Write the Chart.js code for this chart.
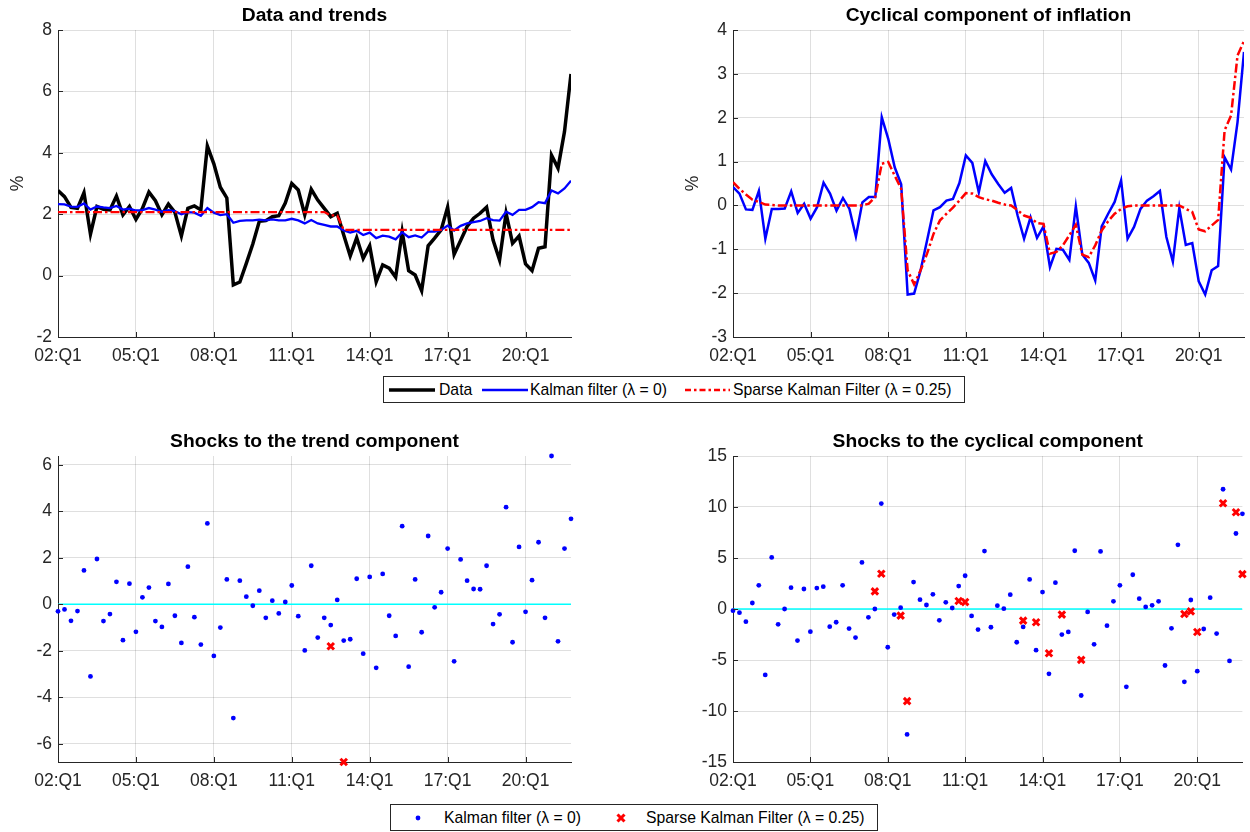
<!DOCTYPE html>
<html><head><meta charset="utf-8">
<script src="https://cdn.jsdelivr.net/npm/chart.js@4.4.1/dist/chart.umd.min.js"></script>
<style>
html,body{margin:0;padding:0;background:#fff;width:1250px;height:832px;overflow:hidden;font-family:"Liberation Sans",Arial,Helvetica,sans-serif;}
canvas{position:absolute;}
.legend{position:absolute;border:1px solid #262626;background:#fff;box-sizing:border-box;font-size:15.75px;color:#000;}
.legend .it{position:absolute;top:0;height:100%;display:flex;align-items:center;white-space:nowrap;}
.legend svg{display:block;}
</style></head><body>
<canvas id="c1" width="600" height="375" style="left:0;top:0"></canvas>
<canvas id="c2" width="575" height="375" style="left:675px;top:0"></canvas>
<canvas id="c3" width="600" height="374" style="left:0;top:426px"></canvas>
<canvas id="c4" width="575" height="374" style="left:675px;top:426px"></canvas>

<div class="legend" style="left:383px;top:376px;width:582px;height:27px">
  <div class="it" style="left:5px"><svg width="46" height="8"><line x1="0" y1="4" x2="46" y2="4" stroke="#000" stroke-width="3.5"/></svg></div>
  <div class="it" style="left:55px">Data</div>
  <div class="it" style="left:98px"><svg width="46" height="8"><line x1="0" y1="4" x2="46" y2="4" stroke="#0000ff" stroke-width="2.3"/></svg></div>
  <div class="it" style="left:146px">Kalman filter (λ = 0)</div>
  <div class="it" style="left:301px"><svg width="45" height="8"><line x1="0" y1="4" x2="45" y2="4" stroke="#ff0000" stroke-width="2.3" stroke-dasharray="6,3,2.5,3"/></svg></div>
  <div class="it" style="left:349px">Sparse Kalman Filter (λ = 0.25)</div>
</div>

<div class="legend" style="left:390px;top:804px;width:488px;height:27px">
  <div class="it" style="left:22px"><svg width="10" height="10"><circle cx="5" cy="5" r="2.4" fill="#0000ff"/></svg></div>
  <div class="it" style="left:53px">Kalman filter (λ = 0)</div>
  <div class="it" style="left:224px"><svg width="12" height="12"><line x1="2.5" y1="2.5" x2="9.5" y2="9.5" stroke="#ff0000" stroke-width="3"/><line x1="9.5" y1="2.5" x2="2.5" y2="9.5" stroke="#ff0000" stroke-width="3"/></svg></div>
  <div class="it" style="left:255px">Sparse Kalman Filter (λ = 0.25)</div>
</div>

<script>
// ---------- DATA (quarterly, 2002:Q1 - 2021:Q4) ----------
const tickPositions = [0, 12, 24, 36, 48, 60, 72];
const tickLabels = ['02:Q1', '05:Q1', '08:Q1', '11:Q1', '14:Q1', '17:Q1', '20:Q1'];

const inflationData = [
  2.77,2.57,2.22,2.19,2.70,1.35,2.25,2.16,2.14,2.59,
  1.98,2.25,1.83,2.19,2.72,2.44,1.98,2.33,2.06,1.29,
  2.19,2.27,2.14,4.22,3.64,2.88,2.53,-0.30,-0.21,0.40,
  1.03,1.77,1.79,1.92,1.95,2.36,3.00,2.79,1.98,2.81,
  2.46,2.19,1.92,2.03,1.32,0.64,1.23,0.56,0.97,-0.20,
  0.35,0.24,-0.05,1.43,0.16,0.02,-0.49,0.97,1.22,1.49,
  2.23,0.69,1.14,1.60,1.87,2.03,2.23,1.16,0.51,2.03,
  1.05,1.29,0.38,0.16,0.89,0.94,3.92,3.50,4.69,6.57
];
const kalmanTrend = [
  2.33,2.32,2.25,2.24,2.35,2.15,2.25,2.22,2.20,2.27,
  2.15,2.18,2.12,2.13,2.20,2.15,2.08,2.13,2.10,2.00,
  2.07,2.05,1.95,2.20,2.05,1.97,2.00,1.72,1.78,1.80,
  1.80,1.82,1.80,1.83,1.80,1.80,1.85,1.80,1.70,1.81,
  1.70,1.65,1.60,1.60,1.47,1.40,1.46,1.32,1.40,1.22,
  1.30,1.27,1.18,1.41,1.25,1.31,1.24,1.43,1.43,1.49,
  1.63,1.47,1.62,1.70,1.74,1.78,1.87,1.81,1.79,2.08,
  1.98,2.14,2.14,2.23,2.39,2.36,2.77,2.68,2.84,3.09
];
const sparseTrend = [
  2.07,2.07,2.07,2.07,2.07,2.07,2.07,2.07,2.07,2.07,
  2.07,2.07,2.07,2.07,2.07,2.07,2.07,2.07,2.07,2.07,
  2.07,2.07,2.07,2.07,2.07,2.07,2.07,2.07,2.07,2.07,
  2.07,2.07,2.07,2.07,2.07,2.07,2.07,2.07,2.07,2.07,
  2.07,2.07,1.96,1.96,1.49,1.49,1.49,1.49,1.49,1.49,
  1.49,1.49,1.49,1.49,1.49,1.49,1.49,1.49,1.49,1.49,
  1.49,1.49,1.49,1.49,1.49,1.49,1.49,1.49,1.49,1.49,
  1.49,1.49,1.49,1.49,1.49,1.49,1.49,1.49,1.49,1.49
];
const kalmanCycle = [
  0.42,0.27,-0.09,-0.10,0.33,-0.76,-0.08,-0.08,-0.07,0.32,
  -0.17,0.04,-0.30,-0.04,0.52,0.27,-0.12,0.17,-0.08,-0.71,
  0.07,0.19,0.19,2.01,1.52,0.87,0.48,-2.03,-2.01,-1.48,
  -0.80,-0.11,-0.04,0.11,0.15,0.51,1.14,0.97,0.30,1.01,
  0.71,0.49,0.29,0.40,-0.23,-0.76,-0.27,-0.74,-0.48,-1.41,
  -0.99,-1.01,-1.24,-0.02,-1.12,-1.31,-1.71,-0.48,-0.19,0.08,
  0.57,-0.76,-0.49,-0.08,0.11,0.21,0.33,-0.72,-1.28,-0.06,
  -0.90,-0.86,-1.73,-2.03,-1.48,-1.38,1.10,0.82,1.90,3.50
];
const sparseCycle = [
  0.53,0.38,0.25,0.13,0.08,0.02,0.01,0,0,0,
  0,0,0,0,0,0,0,0,0,0,
  0,0.04,0.20,0.95,0.99,0.68,0.38,-1.48,-1.80,-1.48,
  -1.10,-0.65,-0.34,-0.19,-0.05,0.11,0.28,0.27,0.19,0.14,
  0.11,0.06,0.02,0,-0.11,-0.23,-0.28,-0.40,-0.42,-1.10,
  -1.06,-0.91,-0.68,-0.44,-1.12,-1.18,-0.91,-0.57,-0.36,-0.19,
  -0.08,-0.02,0,0,0,0,0,0,0,0,
  -0.08,-0.15,-0.55,-0.59,-0.46,-0.33,1.71,2.05,3.42,3.75
];
const kalmanTrendShocks = [
  -0.30,-0.22,-0.71,-0.29,1.46,-3.10,1.95,-0.72,-0.42,0.97,
  -1.54,0.89,-1.18,0.30,0.72,-0.72,-0.97,0.88,-0.49,-1.66,
  1.62,-0.55,-1.73,3.48,-2.22,-1.00,1.07,-4.89,1.02,0.33,
  -0.06,0.59,-0.58,0.16,-0.39,0.10,0.81,-0.51,-1.98,1.66,
  -1.43,-0.58,-0.89,0.19,-1.56,-1.50,1.10,-2.12,1.18,-2.73,
  1.31,-0.49,-1.36,3.36,-2.68,1.07,-1.20,2.94,-0.13,0.52,
  2.40,-2.45,1.93,1.02,0.66,0.65,1.66,-0.85,-0.43,4.18,
  -1.63,2.47,-0.32,1.04,2.67,-0.58,6.38,-1.59,2.40,3.68
];
const sparseTrendShocks = [
  null,null,null,null,null,null,null,null,null,null,
  null,null,null,null,null,null,null,null,null,null,
  null,null,null,null,null,null,null,null,null,null,
  null,null,null,null,null,null,null,null,null,null,
  null,null,-1.80,null,-6.78,null,null,null,null,null,
  null,null,null,null,null,null,null,null,null,null,
  null,null,null,null,null,null,null,null,null,null,
  null,null,null,null,null,null,null,null,null,null
];
const kalmanCycleShocks = [
  -0.16,-0.36,-1.24,0.59,2.32,-6.46,5.06,-1.50,0.00,2.09,
  -3.10,1.96,-2.22,2.05,2.19,-1.73,-1.30,2.32,-1.92,-2.80,
  4.57,-0.82,0.00,10.34,-3.75,-0.55,0.13,-12.30,2.64,0.91,
  0.39,1.44,-1.11,0.65,0.10,2.25,3.26,-0.68,-2.02,5.68,
  -1.79,0.33,0.03,1.40,-3.26,-1.76,2.90,-4.04,1.66,-6.36,
  2.58,-2.51,-2.25,5.71,-8.48,-0.29,-3.46,5.64,-1.63,0.75,
  2.32,-7.63,3.36,1.01,0.20,0.36,0.75,-5.54,-1.89,6.29,
  -7.14,0.88,-6.10,-1.96,1.11,-2.41,11.74,-5.09,7.40,9.33
];
const sparseCycleShocks = [
  null,null,null,null,null,null,null,null,null,null,
  null,null,null,null,null,null,null,null,null,null,
  null,null,1.73,3.46,null,null,-0.65,-9.03,null,null,
  null,null,null,null,null,0.78,0.68,null,null,null,
  null,null,null,null,null,-1.14,null,-1.30,null,-4.34,
  null,-0.55,null,null,-4.99,null,null,null,null,null,
  null,null,null,null,null,null,null,null,null,null,
  -0.49,-0.23,-2.25,null,null,null,10.37,null,9.49,3.42
];
const yTicks1 = [-2, 0, 2, 4, 6, 8];
const yTicks2 = [-3, -2, -1, 0, 1, 2, 3, 4];
const yTicks3 = [-6, -4, -2, 0, 2, 4, 6];
const yTicks4 = [-15, -10, -5, 0, 5, 10, 15];

// ---------- helpers ----------
const FONT = '"Liberation Sans", Arial, Helvetica, sans-serif';
Chart.defaults.font.family = FONT;
Chart.defaults.color = '#262626';
const toXY = arr => arr.map((v, i) => ({x: i, y: v}));
const lastIdx = inflationData.length - 1;
const gridColor = 'rgba(38,38,38,0.15)';
const RED_DASH = [9, 3, 2.5, 3];

function extent(...arrs) {
  const vals = arrs.flat().filter(v => v !== null);
  return [Math.min(...vals), Math.max(...vals)];
}

// MATLAB-style inward tick marks along the axes
const innerTicks = {
  id: 'innerTicks',
  afterDatasetsDraw(chart) {
    const {ctx, chartArea: a, scales: {x, y}} = chart;
    ctx.save();
    ctx.strokeStyle = '#262626';
    ctx.lineWidth = 1;
    ctx.beginPath();
    x.ticks.forEach(t => {
      const px = Math.round(x.getPixelForValue(t.value)) + 0.5;
      ctx.moveTo(px, a.bottom); ctx.lineTo(px, a.bottom - 5);
    });
    y.ticks.forEach(t => {
      const py = Math.round(y.getPixelForValue(t.value)) + 0.5;
      ctx.moveTo(a.left, py); ctx.lineTo(a.left + 5, py);
    });
    ctx.stroke();
    ctx.restore();
  }
};

function makePanel(id, o) {
  new Chart(document.getElementById(id), {
    type: 'line',
    data: {datasets: o.datasets},
    plugins: [innerTicks],
    options: {
      responsive: false,
      animation: false,
      devicePixelRatio: 1,
      layout: {padding: {left: 0, right: o.padRight, top: 0, bottom: 0}},
      plugins: {
        legend: {display: false},
        tooltip: {enabled: false},
        title: {
          display: true, text: o.title, fullSize: false,
          color: '#000', font: {size: 19.25, weight: 'bold', lineHeight: 1.2},
          padding: {top: 4, bottom: 2.9}
        }
      },
      scales: {
        x: {
          type: 'linear', min: 0, max: lastIdx,
          afterBuildTicks: s => { s.ticks = tickPositions.map(v => ({value: v})); },
          afterFit: s => { s.height = o.xHeight; },
          ticks: {
            autoSkip: false, maxRotation: 0, padding: 9,
            font: {size: 17.5}, color: '#262626',
            callback: (v, i) => tickLabels[i]
          },
          grid: {color: gridColor, drawTicks: false, lineWidth: 1},
          border: {color: '#262626', width: 1}
        },
        y: {
          type: 'linear', min: o.yMin, max: o.yMax,
          afterBuildTicks: s => { s.ticks = o.yTicks.map(v => ({value: v})); },
          afterFit: s => { s.width = 58; },
          ticks: {padding: 6, font: {size: 17.5}, color: '#262626', callback: v => String(v)},
          grid: {color: gridColor, drawTicks: false, lineWidth: 1},
          border: {color: '#262626', width: 1},
          title: o.yTitle ? {display: true, text: '%', color: '#262626', font: {size: 17.5}, padding: {top: 8, bottom: 0}} : {display: false}
        }
      }
    }
  });
}

function lineDS(arr, color, width, dash, order) {
  return {data: toXY(arr), borderColor: color, backgroundColor: color, borderWidth: width,
    borderDash: dash || [], pointRadius: 0, tension: 0, fill: false, order: order};
}
function dotDS(arr, order) {
  return {data: toXY(arr), showLine: false, pointStyle: 'circle', pointRadius: 2.4,
    pointBorderWidth: 0, backgroundColor: '#0000ff', borderColor: '#0000ff', clip: false, order: order};
}
function crossDS(arr, order) {
  return {data: toXY(arr), showLine: false, pointStyle: 'crossRot', pointRadius: 4.6,
    pointBorderWidth: 3, borderColor: '#ff0000', backgroundColor: '#ff0000', clip: false, order: order};
}
function zeroDS(arr) {
  return {data: toXY(arr.map(() => 0)), borderColor: '#00ffff', borderWidth: 1.5,
    pointRadius: 0, fill: false, order: 3};
}

makePanel('c1', {
  title: 'Data and trends', padRight: 29, xHeight: 38, yTitle: true,
  yMin: -2, yMax: 8, yTicks: yTicks1,
  datasets: [
    lineDS(inflationData, '#000000', 3.5, null, 2),
    lineDS(kalmanTrend, '#0000ff', 2.3, null, 1),
    lineDS(sparseTrend, '#ff0000', 2.3, RED_DASH, 0)
  ]
});
makePanel('c2', {
  title: 'Cyclical component of inflation', padRight: 6, xHeight: 38, yTitle: true,
  yMin: -3, yMax: 4, yTicks: yTicks2,
  datasets: [
    lineDS(kalmanCycle, '#0000ff', 2.5, null, 1),
    lineDS(sparseCycle, '#ff0000', 2.5, RED_DASH, 0)
  ]
});
const ext3 = extent(kalmanTrendShocks, sparseTrendShocks);
makePanel('c3', {
  title: 'Shocks to the trend component', padRight: 29, xHeight: 38, yTitle: false,
  yMin: ext3[0], yMax: ext3[1], yTicks: yTicks3,
  datasets: [
    dotDS(kalmanTrendShocks, 1),
    crossDS(sparseTrendShocks, 0),
    zeroDS(kalmanTrendShocks)
  ]
});
makePanel('c4', {
  title: 'Shocks to the cyclical component', padRight: 6, xHeight: 38, yTitle: false,
  yMin: -15, yMax: 15, yTicks: yTicks4,
  datasets: [
    dotDS(kalmanCycleShocks, 1),
    crossDS(sparseCycleShocks, 0),
    zeroDS(kalmanCycleShocks)
  ]
});
</script>
</body></html>
